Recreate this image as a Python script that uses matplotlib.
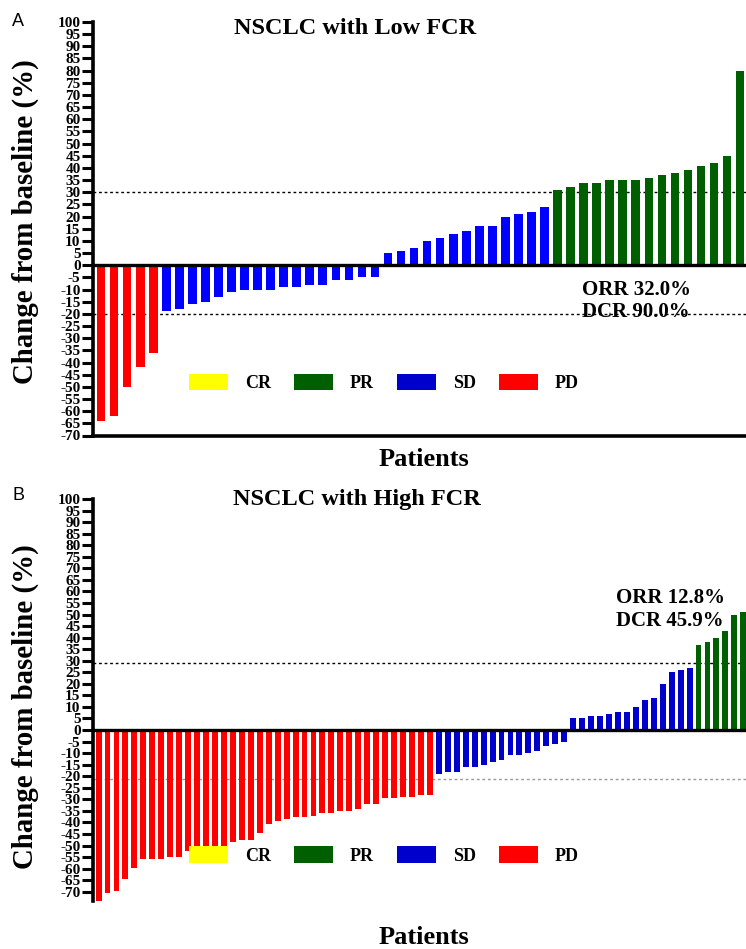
import matplotlib
matplotlib.use('Agg')
import matplotlib.pyplot as plt
from matplotlib.patches import Patch
import numpy as np

# ---------------- data ----------------
# Panel A: NSCLC with Low FCR (sorted waterfall)
a_pd = [-64, -62, -50, -42, -36]
a_sd = [-19, -18, -16, -15, -13, -11, -10, -10, -10, -9, -9, -8, -8, -6, -6, -5, -5,
        5, 6, 7, 10, 11, 13, 14, 16, 16, 20, 21, 22, 24]
a_pr = [31, 32, 34, 34, 35, 35, 35, 36, 37, 38, 39, 41, 42, 45, 80]
a_lines = [30, -20]
a_text = ["ORR 32.0%", "DCR 90.0%"]

# Panel B: NSCLC with High FCR
b_pd = [-74, -70.5, -69.5, -64.5, -59.5, -56, -56, -56, -55, -55, -52.5, -52, -51.5,
        -51, -50, -48.5, -47.5, -47.5, -44.5, -40.5, -39.5, -38.5, -37.5, -37.5, -37,
        -36, -36, -35, -35, -34, -32, -32, -29.5, -29.5, -29, -29, -28, -28]
b_sd = [-19, -18, -18, -16, -16, -15, -14, -13, -11, -11, -10, -9, -7, -6, -5,
        5, 5, 6, 6, 7, 8, 8, 10, 13, 14, 20, 25, 26, 27]
b_pr = [37, 38, 40, 43, 50, 51]
b_lines = [29, -21]
b_text = ["ORR 12.8%", "DCR 45.9%"]

categories = ["CR", "PR", "SD", "PD"]
cat_colors = {"CR": "#FFFF00", "PR": "#005F00", "SD": "#0000CC", "PD": "#FF0000"}
yticks = list(range(-70, 101, 5))

SERIF = "Liberation Serif"

W, H = 746, 949
fig = plt.figure(figsize=(W / 100, H / 100), dpi=100)


def fx(px):
    return px / W


def fy(py):
    return 1 - py / H


def panel(ax, pd_vals, sd_vals, pr_vals, lines, ylo, xpad_r, sd_color, bottom_spine,
          line2_style):
    vals = list(pd_vals) + list(sd_vals) + list(pr_vals)
    cols = ([cat_colors["PD"]] * len(pd_vals) + [sd_color] * len(sd_vals)
            + [cat_colors["PR"]] * len(pr_vals))
    x = np.arange(len(vals))
    ax.bar(x, vals, width=0.66, color=cols, edgecolor='none', zorder=2)
    ax.set_xlim(-0.62, len(vals) - 1 + xpad_r)
    ax.set_ylim(ylo, 100)
    ax.axhline(0, color='black', lw=2.4, zorder=3)
    ax.axhline(lines[0], color='black', lw=1.0, ls=(0, (2, 2)), zorder=1)
    ax.axhline(lines[1], color=line2_style, lw=1.0, ls=(0, (2, 2)), zorder=1)
    ax.set_yticks(yticks)
    ax.set_yticklabels([str(t) for t in yticks], fontfamily=SERIF,
                       fontweight='bold', fontsize=11)
    ax.tick_params(axis='y', direction='out', length=8, width=2.2, pad=1)
    ax.set_xticks([])
    for s in ['top', 'right']:
        ax.spines[s].set_visible(False)
    ax.spines['left'].set_linewidth(2.6)
    ax.spines['bottom'].set_visible(bottom_spine)
    ax.spines['bottom'].set_linewidth(2.6)
    handles = [Patch(facecolor=cat_colors[c], edgecolor='none') for c in categories]
    return handles


# axes A
axA = fig.add_axes([fx(93), fy(435.5), 1 - fx(93), fy(22) - fy(435.5)])
hA = panel(axA, a_pd, a_sd, a_pr, a_lines, -70, 0.45, "#0000FF", True, 'black')
# axes B
axB = fig.add_axes([fx(93), fy(901), 1 - fx(93), fy(499) - fy(901)])
hB = panel(axB, b_pd, b_sd, b_pr, b_lines, -74, 0.3, "#0000CC", False, '#999999')

leg_font = {'family': SERIF, 'weight': 'bold', 'size': 13}
for ax, h, ycen in [(axA, hA, 383), (axB, hB, 855.5)]:
    leg = ax.legend(h, categories, loc='center', ncol=4, frameon=False,
                    prop=leg_font, handlelength=2.15, handleheight=1.05,
                    handletextpad=0.95, columnspacing=1.27,
                    bbox_to_anchor=(fx(384), fy(ycen)),
                    bbox_transform=fig.transFigure)
    leg.set_zorder(10)

# annotation text
for lines_txt, x0, y1, y2 in [(a_text, 582, 290, 312), (b_text, 616, 598, 621)]:
    fig.text(fx(x0), fy(y1), lines_txt[0], ha='left', va='center',
             fontfamily=SERIF, fontweight='bold', fontsize=15, zorder=20)
    fig.text(fx(x0), fy(y2), lines_txt[1], ha='left', va='center',
             fontfamily=SERIF, fontweight='bold', fontsize=15, zorder=20)

# titles
fig.text(fx(355), fy(28), "NSCLC with Low FCR", ha='center', va='center',
         fontfamily=SERIF, fontweight='bold', fontsize=17.5)
fig.text(fx(357), fy(500), "NSCLC with High FCR", ha='center', va='center',
         fontfamily=SERIF, fontweight='bold', fontsize=17.5)

# y labels
fig.text(fx(25), fy(222), "Change from baseline (%)", rotation=90, ha='center',
         va='center', fontfamily=SERIF, fontweight='bold', fontsize=20.8)
fig.text(fx(25), fy(707), "Change from baseline (%)", rotation=90, ha='center',
         va='center', fontfamily=SERIF, fontweight='bold', fontsize=20.8)

# x labels
fig.text(fx(424), fy(459), "Patients", ha='center', va='center',
         fontfamily=SERIF, fontweight='bold', fontsize=19)
fig.text(fx(424), fy(938), "Patients", ha='center', va='center',
         fontfamily=SERIF, fontweight='bold', fontsize=19)

# panel letters
fig.text(fx(18), fy(22), "A", ha='center', va='center',
         fontfamily="Liberation Sans", fontsize=13)
fig.text(fx(18), fy(496), "B", ha='center', va='center',
         fontfamily="Liberation Sans", fontsize=13)

fig.savefig("out.png", dpi=100)
